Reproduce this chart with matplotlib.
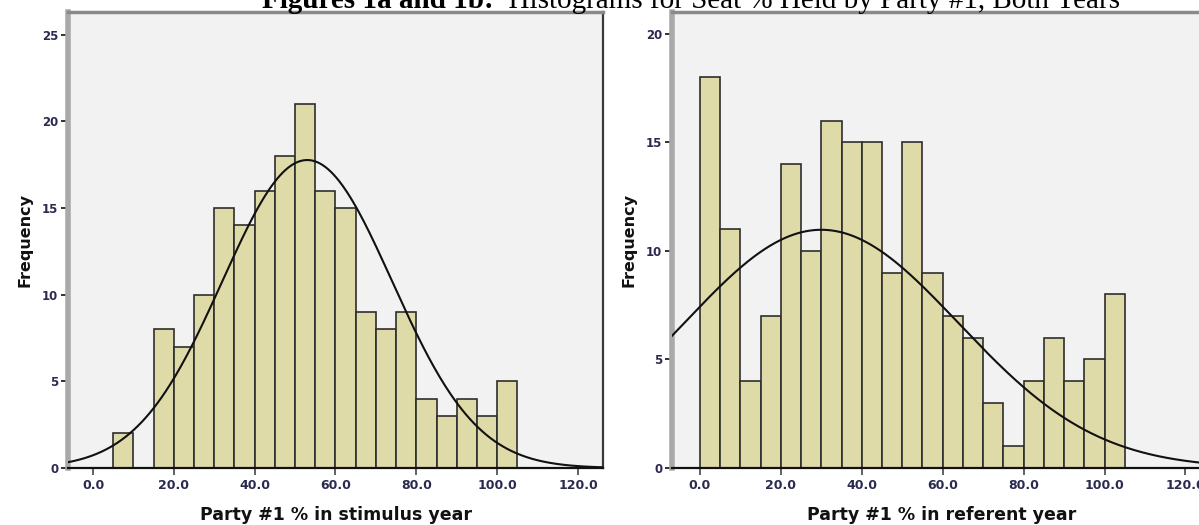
import numpy as np
import matplotlib
matplotlib.use("Agg")
import matplotlib.pyplot as plt

# ---- data ----
bin_width = 5
left_bin_starts = [5, 10, 15, 20, 25, 30, 35, 40, 45, 50, 55, 60, 65, 70, 75, 80, 85, 90, 95, 100]
left_counts = [2, 0, 8, 7, 10, 15, 14, 16, 18, 21, 16, 15, 9, 8, 9, 4, 3, 4, 3, 5]
left_mean, left_sd, left_n = 53.0, 21.0, 187

right_bin_starts = [0, 5, 10, 15, 20, 25, 30, 35, 40, 45, 50, 55, 60, 65, 70, 75, 80, 85, 90, 95, 100]
right_counts = [18, 11, 4, 7, 14, 10, 16, 15, 15, 9, 15, 9, 7, 6, 3, 1, 4, 6, 4, 5, 8]
right_mean, right_sd, right_n = 30.0, 34.0, 187

x_ticks = [0, 20, 40, 60, 80, 100, 120]
x_tick_labels = ["0.0", "20.0", "40.0", "60.0", "80.0", "100.0", "120.0"]
left_y_ticks = [0, 5, 10, 15, 20, 25]
right_y_ticks = [0, 5, 10, 15, 20]
left_xlabel = "Party #1 % in stimulus year"
right_xlabel = "Party #1 % in referent year"
ylabel = "Frequency"
title_bold = "Figures 1a and 1b:"
title_rest = "  Histograms for Seat % Held by Party #1, Both Years"

# ---- figure ----
W, H = 1199, 525
fig = plt.figure(figsize=(W / 100, H / 100), dpi=100)
fig.patch.set_facecolor("white")

bar_face = "#dfdba9"
bar_edge = "#2e2e2e"
tick_col = "#2a2a50"


def style_axes(ax, show_right=True):
    ax.set_facecolor("#f2f2f2")
    ax.spines["left"].set_color("#a9a9a9")
    ax.spines["left"].set_linewidth(4)
    ax.spines["top"].set_color("#8a8a8a")
    ax.spines["top"].set_linewidth(2.5)
    ax.spines["bottom"].set_color("#111111")
    ax.spines["bottom"].set_linewidth(1.6)
    if show_right:
        ax.spines["right"].set_color("#3a3a3a")
        ax.spines["right"].set_linewidth(1.6)
    else:
        ax.spines["right"].set_visible(False)
    ax.tick_params(axis="y", direction="out", length=5, width=1.3, color="#222222",
                   labelsize=8.5, labelcolor=tick_col, pad=2)
    ax.tick_params(axis="x", direction="out", length=5, width=1.3, color="#555555",
                   labelsize=9, labelcolor=tick_col, pad=3)
    for lab in ax.get_xticklabels() + ax.get_yticklabels():
        lab.set_fontweight("bold")


def draw(ax, starts, counts, mean, sd, n, xlim, ylim, yticks, xlabel, show_right):
    ax.bar(starts, counts, width=bin_width, align="edge", color=bar_face,
           edgecolor=bar_edge, linewidth=1.2, zorder=2)
    xs = np.linspace(xlim[0], xlim[1], 400)
    ys = n * bin_width / (sd * np.sqrt(2 * np.pi)) * np.exp(-0.5 * ((xs - mean) / sd) ** 2)
    ax.plot(xs, ys, color="#111111", linewidth=1.5, zorder=3)
    ax.set_xlim(*xlim)
    ax.set_ylim(*ylim)
    ax.set_xticks(x_ticks)
    ax.set_xticklabels(x_tick_labels)
    ax.set_yticks(yticks)
    ax.set_yticklabels([str(v) for v in yticks])
    ax.set_xlabel(xlabel, fontsize=12.5, fontweight="bold", color="#111111", labelpad=10)
    ax.set_ylabel(ylabel, fontsize=11.5, fontweight="bold", color="#111111", labelpad=7)
    style_axes(ax, show_right)


bottom = 1 - 468 / H
top = 1 - 12 / H
ax1 = fig.add_axes([68 / W, bottom, (603 - 68) / W, top - bottom])
draw(ax1, left_bin_starts, left_counts, left_mean, left_sd, left_n,
     (-6.2, 126.2), (0, 26.3), left_y_ticks, left_xlabel, True)

ax2 = fig.add_axes([672 / W, bottom, (W - 672) / W + 0.01, top - bottom])
draw(ax2, right_bin_starts, right_counts, right_mean, right_sd, right_n,
     (-6.9, 126.3), (0, 21.0), right_y_ticks, right_xlabel, False)

# ---- title (partly cut off at top) ----
ty = 1 - 8 / H
t1 = fig.text(262 / W, ty, title_bold, fontsize=21, fontweight="bold",
              family="Liberation Serif", va="baseline", ha="left")
fig.canvas.draw()
bb = t1.get_window_extent(fig.canvas.get_renderer())
fig.text(bb.x1 / W, ty, title_rest, fontsize=21, family="Liberation Serif",
         va="baseline", ha="left")

fig.savefig("out.png", dpi=100, facecolor="white")
